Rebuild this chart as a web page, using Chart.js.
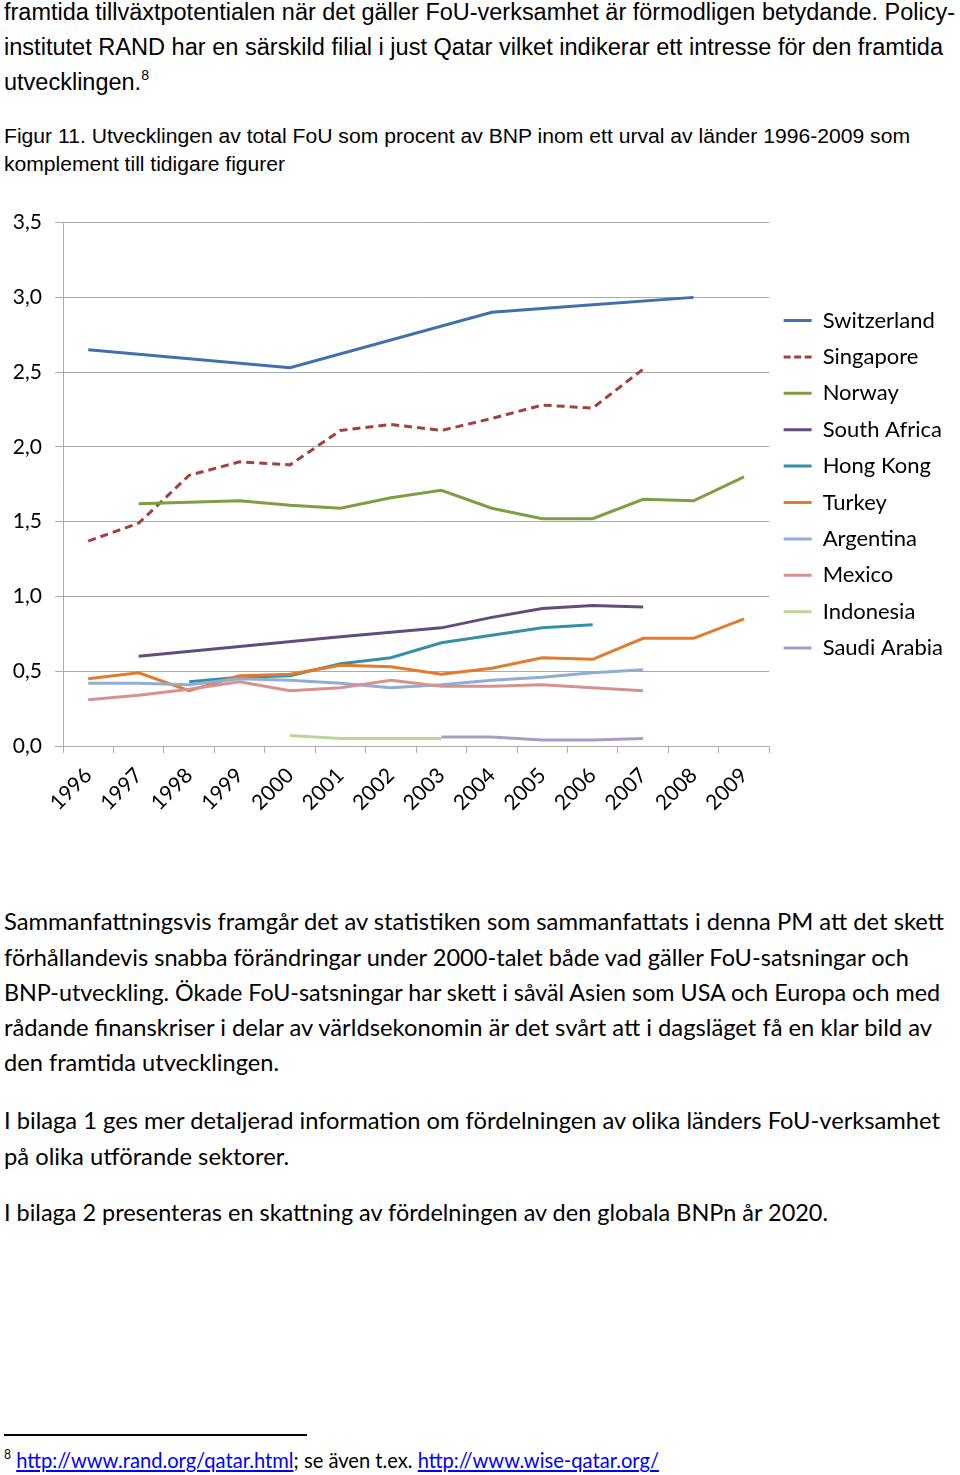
<!DOCTYPE html>
<html>
<head>
<meta charset="utf-8">
<script src="https://cdn.jsdelivr.net/npm/chart.js@4.4.1/dist/chart.umd.min.js"></script>
<style>
  html, body { margin: 0; padding: 0; background: #fff; }
  body { width: 960px; height: 1475px; position: relative; overflow: hidden; }
  .ln { position: absolute; left: 4px; white-space: nowrap; line-height: 1; color: #000; transform-origin: 0 0; display: inline-block; }
  .narrow { font-family: "Liberation Sans", Arial, sans-serif; }
  .body { font-family: "Lato", "Open Sans", sans-serif; }
  sup { font-size: 0.6em; line-height: 0; vertical-align: 0.75em; }
  a { color: #0000ff; text-decoration: underline; }
  #rule { position: absolute; left: 4px; top: 1434px; width: 303px; height: 1.5px; background: #000; }
  #wrap { position: absolute; left: 0; top: 197px; width: 960px; height: 653px; }
</style>
</head>
<body>
<div class="ln narrow" style="top:1px;font-size:23px" data-w="951">framtida tillväxtpotentialen när det gäller FoU-verksamhet är förmodligen betydande. Policy-</div>
<div class="ln narrow" style="top:36px;font-size:23px" data-w="939">institutet RAND har en särskild filial i just Qatar vilket indikerar ett intresse för den framtida</div>
<div class="ln narrow" style="top:71px;font-size:23px" data-w="145">utvecklingen.<sup>8</sup></div>

<div class="ln narrow" style="top:126px;font-size:20px" data-w="906">Figur 11. Utvecklingen av total FoU som procent av BNP inom ett urval av länder 1996-2009 som</div>
<div class="ln narrow" style="top:154px;font-size:20px" data-w="281">komplement till tidigare figurer</div>

<div id="wrap"><canvas id="c" width="960" height="653"></canvas></div>

<div class="ln body" style="top:909px;font-size:24px" data-w="940">Sammanfattningsvis framgår det av statistiken som sammanfattats i denna PM att det skett</div>
<div class="ln body" style="top:945px;font-size:24px" data-w="905">förhållandevis snabba förändringar under 2000-talet både vad gäller FoU-satsningar och</div>
<div class="ln body" style="top:980px;font-size:24px" data-w="936">BNP-utveckling. Ökade FoU-satsningar har skett i såväl Asien som USA och Europa och med</div>
<div class="ln body" style="top:1015px;font-size:24px" data-w="928">rådande finanskriser i delar av världsekonomin är det svårt att i dagsläget få en klar bild av</div>
<div class="ln body" style="top:1050px;font-size:24px" data-w="275">den framtida utvecklingen.</div>
<div class="ln body" style="top:1108px;font-size:24px" data-w="936">I bilaga 1 ges mer detaljerad information om fördelningen av olika länders FoU-verksamhet</div>
<div class="ln body" style="top:1144px;font-size:24px" data-w="285">på olika utförande sektorer.</div>
<div class="ln body" style="top:1200px;font-size:24px" data-w="824">I bilaga 2 presenteras en skattning av fördelningen av den globala BNPn år 2020.</div>

<div id="rule"></div>
<div class="ln body" style="top:1449px;font-size:21px" data-w="655"><sup>8</sup> <a>http://www.rand.org/qatar.html</a>; se även t.ex. <a>http://www.wise-qatar.org/</a></div>

<script>
// ---- data ----
const years = ['1996','1997','1998','1999','2000','2001','2002','2003','2004','2005','2006','2007','2008','2009'];
const seriesNames = ['Switzerland','Singapore','Norway','South Africa','Hong Kong','Turkey','Argentina','Mexico','Indonesia','Saudi Arabia'];
const switzerland = [2.65, null, null, null, 2.53, null, null, null, 2.90, null, 2.95, null, 3.00, null];
const singapore   = [1.37, 1.49, 1.81, 1.90, 1.88, 2.11, 2.15, 2.11, 2.19, 2.28, 2.26, 2.52, null, null];
const norway      = [null, 1.62, 1.63, 1.64, 1.61, 1.59, 1.66, 1.71, 1.59, 1.52, 1.52, 1.65, 1.64, 1.80];
const southAfrica = [null, 0.60, null, null, null, 0.73, null, 0.79, 0.86, 0.92, 0.94, 0.93, null, null];
const hongKong    = [null, null, 0.43, 0.46, 0.47, 0.55, 0.59, 0.69, 0.74, 0.79, 0.81, null, null, null];
const turkey      = [0.45, 0.49, 0.37, 0.47, 0.48, 0.54, 0.53, 0.48, 0.52, 0.59, 0.58, 0.72, 0.72, 0.85];
const argentina   = [0.42, 0.42, 0.41, 0.45, 0.44, 0.42, 0.39, 0.41, 0.44, 0.46, 0.49, 0.51, null, null];
const mexico      = [0.31, 0.34, 0.38, 0.43, 0.37, 0.39, 0.44, 0.40, 0.40, 0.41, 0.39, 0.37, null, null];
const indonesia   = [null, null, null, null, 0.07, 0.05, 0.05, 0.05, null, null, null, null, null, null];
const saudiArabia = [null, null, null, null, null, null, null, 0.06, 0.06, 0.04, 0.04, 0.05, null, null];
const yTicks = [0, 0.5, 1.0, 1.5, 2.0, 2.5, 3.0, 3.5];

const seriesValues = [switzerland, singapore, norway, southAfrica, hongKong, turkey, argentina, mexico, indonesia, saudiArabia];
const colors = ['#4170AB','#A2423F','#7E9E43','#624C7F','#3590A6','#E27B2C','#8FADD5','#D7918F','#BCD699','#A99DC5'];

// ---- text fitting ----
document.querySelectorAll('.ln[data-w]').forEach(el => {
  const w = el.getBoundingClientRect().width;
  const target = parseFloat(el.dataset.w);
  el.style.transform = 'scaleX(' + (target / w) + ')';
});

// ---- chart ----
Chart.defaults.font.family = 'Lato';
Chart.defaults.color = '#000';
const gridColor = '#ABABAB';

const datasets = seriesNames.map((name, i) => ({
  label: name,
  data: seriesValues[i],
  borderColor: colors[i],
  backgroundColor: colors[i],
  borderWidth: 3,
  borderDash: i === 1 ? [8, 5] : [],
  pointRadius: 0,
  tension: 0,
  spanGaps: true,
  order: seriesNames.length - i
}));

new Chart(document.getElementById('c'), {
  type: 'line',
  data: { labels: years, datasets },
  options: {
    responsive: false,
    animation: false,
    layout: { padding: { top: 20, right: 7, bottom: 0, left: 0 } },
    plugins: {
      tooltip: { enabled: false },
      legend: {
        position: 'right',
        fullSize: false,
        labels: {
          usePointStyle: true,
          pointStyle: 'line',
          pointStyleWidth: 28,
          padding: 14.4,
          font: { size: 22 },
          color: '#000',
          sort: (a, b) => a.datasetIndex - b.datasetIndex,
          generateLabels: (chart) => {
            const items = Chart.defaults.plugins.legend.labels.generateLabels(chart);
            items.forEach(it => {
              const ds = chart.data.datasets[it.datasetIndex];
              it.lineWidth = 3;
              it.strokeStyle = ds.borderColor;
              it.fillStyle = ds.borderColor;
              it.lineDash = ds.borderDash.length ? [7, 3.5] : [];
            });
            return items;
          }
        }
      }
    },
    scales: {
      x: {
        offset: true,
        grid: { offset: true, drawOnChartArea: false, drawTicks: true, tickLength: 7, color: gridColor },
        border: { display: true, color: gridColor },
        ticks: { minRotation: 45, maxRotation: 45, autoSkip: false, padding: 10, font: { size: 21 }, color: '#000' },
        afterFit: (s) => { s.height = 104; }
      },
      y: {
        min: 0, max: 3.5,
        afterBuildTicks: (s) => { s.ticks = yTicks.map(v => ({ value: v })); },
        grid: { tickLength: 8, color: gridColor },
        border: { display: true, color: gridColor },
        ticks: { padding: 13, font: { size: 21 }, color: '#000', callback: (v) => v.toFixed(1).replace('.', ',') },
        afterFit: (s) => { s.width = 63; }
      }
    }
  }
});
</script>
</body>
</html>
